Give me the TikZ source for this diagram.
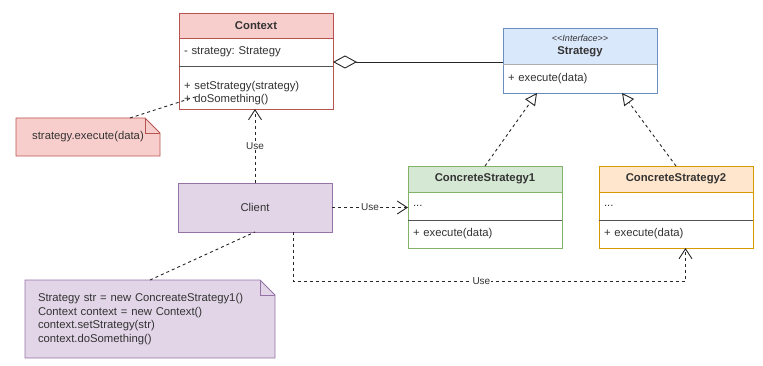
\documentclass[tikz,border=0pt]{standalone}
\usepackage{fontspec}
\setmainfont{Liberation Sans}
\usetikzlibrary{arrows.meta,positioning,backgrounds}
\frenchspacing
\definecolor{ink}{HTML}{333333}
\definecolor{ctxFill}{HTML}{F8CECC}
\definecolor{ctxLine}{HTML}{B85450}
\definecolor{strFill}{HTML}{DAE8FC}
\definecolor{strLine}{HTML}{6C8EBF}
\definecolor{csOneFill}{HTML}{D5E8D4}
\definecolor{csOneLine}{HTML}{82B366}
\definecolor{csTwoFill}{HTML}{FFE6CC}
\definecolor{csTwoLine}{HTML}{D79B00}
\definecolor{cliFill}{HTML}{E1D5E7}
\definecolor{cliLine}{HTML}{9673A6}

\tikzset{
  txt/.style={text=ink, font=\fontsize{11.3}{13.4}\selectfont},
  head/.style={txt, draw=#1, line width=0.9pt, minimum width=154pt, inner sep=0pt,
    outer sep=0pt, align=center, font=\fontsize{11.3}{13.4}\selectfont\bfseries},
  field/.style={txt, draw=#1, fill=white, line width=0.9pt, minimum width=154pt,
    text width=144pt, inner xsep=5pt, inner ysep=0pt, outer sep=0pt, align=left},
  sepline/.style={draw=ink!85, line width=0.9pt},
  notetext/.style={txt, inner sep=0pt, outer sep=0pt},
  notebox/.style={draw=#1, line width=0.9pt},
  wire/.style={draw=black!85, line width=0.9pt},
  dep/.style={wire, dash pattern=on 3pt off 3pt, -{Straight Barb[length=10pt,width=13pt]}},
  impl/.style={wire, dash pattern=on 3pt off 3pt, -{Triangle[open,length=12pt,width=12pt,fill=white]}},
  aggr/.style={wire, {Diamond[open,length=24pt,width=13pt,fill=white]}-},
  notelink/.style={wire, dash pattern=on 3pt off 3pt},
  use/.style={text=ink, fill=white, inner sep=1pt, font=\fontsize{10}{12}\selectfont}
}

\begin{document}
\begin{tikzpicture}[x=1pt,y=-1pt]
  \useasboundingbox (0,0) rectangle (763,366);

  % Context class
  \node[head=ctxLine, fill=ctxFill, minimum height=25pt, anchor=north west] (ctx) at (179,13) {Context};
  \node[field=ctxLine, minimum height=28pt, below=0pt of ctx] (ctxattr) {- strategy: Strategy};
  \node[field=ctxLine, minimum height=43pt, below=0pt of ctxattr] (ctxops) {\rule{0pt}{19pt}+ setStrategy(strategy)\\+ doSomething()};
  \draw[sepline] (ctxops.north west) -- (ctxops.north east);

  % Strategy interface
  \node[head=strLine, fill=strFill, minimum height=36pt, anchor=north west] (str) at (503,28)
    {{\normalfont\itshape\fontsize{9}{12}\selectfont \textless\kern0pt\textless Interface\textgreater\kern0pt\textgreater}\\Strategy};
  \node[field=strLine, minimum height=29pt, below=0pt of str] (strops) {+ execute(data)};
  \draw[sepline, draw=ink!40] (strops.north west) -- (strops.north east);

  % concrete strategies
  \node[head=csOneLine, fill=csOneFill, minimum height=26pt, anchor=north west] (cs1) at (408,166) {ConcreteStrategy1};
  \node[field=csOneLine, minimum height=28pt, below=0pt of cs1] (cs1attr) {...};
  \node[field=csOneLine, minimum height=28pt, below=0pt of cs1attr] (cs1ops) {+ execute(data)};
  \draw[sepline] (cs1ops.north west) -- (cs1ops.north east);

  \node[head=csTwoLine, fill=csTwoFill, minimum height=26pt, anchor=north west] (cs2) at (599,166) {ConcreteStrategy2};
  \node[field=csTwoLine, minimum height=28pt, below=0pt of cs2] (cs2attr) {...};
  \node[field=csTwoLine, minimum height=28pt, below=0pt of cs2attr] (cs2ops) {+ execute(data)};
  \draw[sepline] (cs2ops.north west) -- (cs2ops.north east);

  % client
  \node[txt, draw=cliLine, fill=cliFill, line width=0.9pt, minimum width=154pt, minimum height=49pt,
    outer sep=0pt] (client) at (255,207.5) {Client};

  % notes
  \node[notetext, minimum width=144pt, minimum height=38pt, anchor=north west] (note1) at (16,118) {strategy.execute(data)};
  \node[notetext, text width=224pt, inner xsep=13pt, minimum height=78pt, align=left, anchor=north west] (note2) at (25,280)
    {Strategy str = new ConcreateStrategy1()\\Context context = new Context()\\context.setStrategy(str)\\context.doSomething()};
  \begin{scope}[on background layer]
    \foreach \n/\c in {note1/ctx, note2/cli} {
      \draw[notebox=\c Line, fill=\c Fill] (\n.north west) -- ([xshift=-15pt]\n.north east)
        -- ([yshift=-15pt]\n.north east) -- (\n.south east) -- (\n.south west) -- cycle;
      \draw[notebox=\c Line] ([xshift=-15pt]\n.north east) |- ([yshift=-15pt]\n.north east);
    }
  \end{scope}

  % relations
  \draw[aggr] ([yshift=-10pt]ctxattr.east) -- ([yshift=-16pt]str.west);
  \draw[impl] (cs1.north) -- ([xshift=-43pt]strops.south);
  \draw[impl] (cs2.north) -- ([xshift=42pt]strops.south);
  \draw[dep] (client.north) -- node[use] {Use} (client.north |- ctxops.south);
  \draw[dep] (client.east) -- node[use] {Use} (client.east -| cs1attr.west);
  \draw[dep] ([xshift=38pt]client.south) -- ++(0,49) -| node[use, pos=0.24] {Use} ([xshift=9.5pt]cs2ops.south);
  \draw[notelink] ([xshift=42pt]note1.north) -- ([xshift=-61pt,yshift=-9.5pt]ctxops.center);
  \draw[notelink] (note2.north) -- (client.south);
\end{tikzpicture}
\end{document}
